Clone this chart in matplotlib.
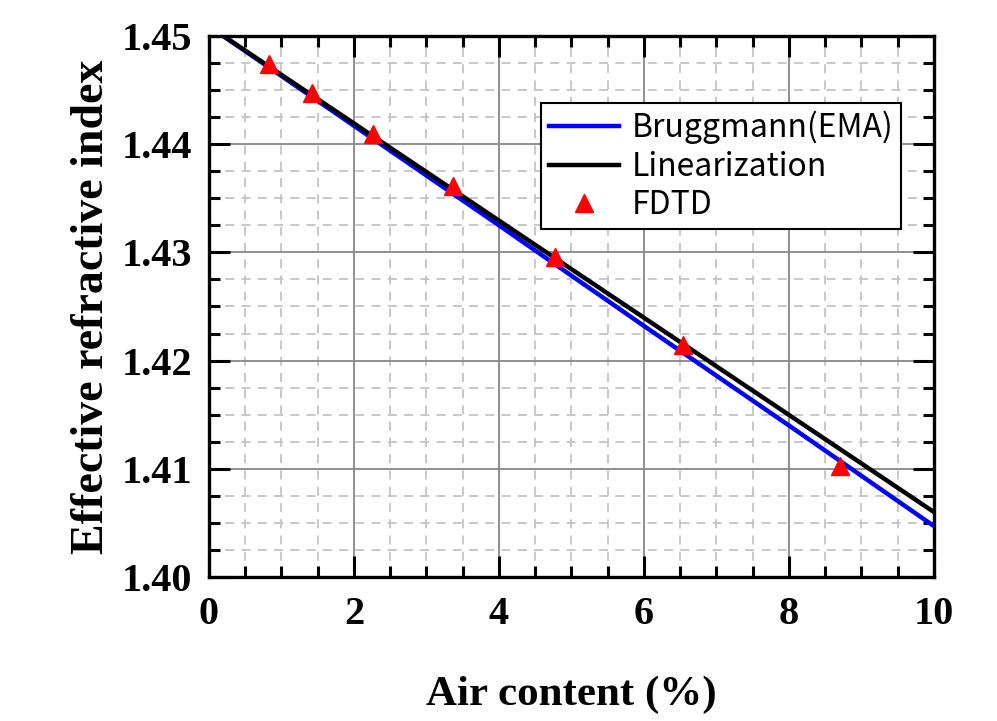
import matplotlib
matplotlib.use("Agg")
import matplotlib.pyplot as plt
from matplotlib.ticker import MultipleLocator

# Data
brugg_x = [0, 2, 4, 6, 8, 10]
brugg_y = [1.4509, 1.4417, 1.4325, 1.4232, 1.4140, 1.4047]
lin_x = [0, 10]
lin_y = [1.4509, 1.4060]
fdtd_x = [0.83, 1.42, 2.26, 3.36, 4.77, 6.54, 8.70]
fdtd_y = [1.4474, 1.4447, 1.4409, 1.4361, 1.4296, 1.4214, 1.4103]
xticks = [0, 2, 4, 6, 8, 10]
yticks = [1.40, 1.41, 1.42, 1.43, 1.44, 1.45]
ytick_labels = ["1.40", "1.41", "1.42", "1.43", "1.44", "1.45"]

serif = "Liberation Serif"
legend_font = ["Noto Sans CJK JP", "DejaVu Sans"]

fig = plt.figure(figsize=(9.97, 7.21), dpi=100)
ax = fig.add_axes([0.2096, 0.1997, 0.7272, 0.7504])

ax.plot(brugg_x, brugg_y, color="#0000ff", lw=3.2, label="Bruggmann(EMA)", zorder=3)
ax.plot(lin_x, lin_y, color="black", lw=3.2, label="Linearization", zorder=4)
ax.plot(fdtd_x, fdtd_y, linestyle="none", marker="^", color="#ff0000", ms=13,
        label="FDTD", zorder=5)

ax.set_xlim(0, 10)
ax.set_ylim(1.40, 1.45)
ax.set_xticks(xticks)
ax.set_yticks(yticks)
ax.set_yticklabels(ytick_labels)
ax.xaxis.set_minor_locator(MultipleLocator(0.5))
ax.yaxis.set_minor_locator(MultipleLocator(0.0025))

ax.grid(which="major", color="#888888", lw=1.3, linestyle="-", zorder=0)
ax.grid(which="minor", color="#c4c4c4", lw=1.3, linestyle=(0, (5, 4)), zorder=0)
ax.set_axisbelow(True)

ax.tick_params(which="both", direction="in", top=True, right=True, width=2.2)
ax.tick_params(which="major", length=15)
ax.tick_params(which="minor", length=8)
for lab in ax.get_xticklabels() + ax.get_yticklabels():
    lab.set_fontfamily(serif)
    lab.set_fontweight("bold")
    lab.set_fontsize(29)
ax.tick_params(axis="x", pad=14)
ax.tick_params(axis="y", pad=12)

for sp in ax.spines.values():
    sp.set_linewidth(2.4)

ax.set_xlabel("Air content (%)", fontfamily=serif, fontweight="bold", fontsize=31, labelpad=30)
ax.set_ylabel("Effective refractive index", fontfamily=serif, fontweight="bold", fontsize=33, labelpad=6)

leg = ax.legend(loc="upper right", bbox_to_anchor=(0.955, 0.876), prop={"family": legend_font, "size": 23},
                frameon=True, fancybox=False, framealpha=1, edgecolor="black",
                handlelength=2.2, handletextpad=0.4, borderpad=0.25, labelspacing=0.2,
                borderaxespad=0)
leg.get_frame().set_linewidth(1.5)

fig.savefig("out.png", dpi=100)
